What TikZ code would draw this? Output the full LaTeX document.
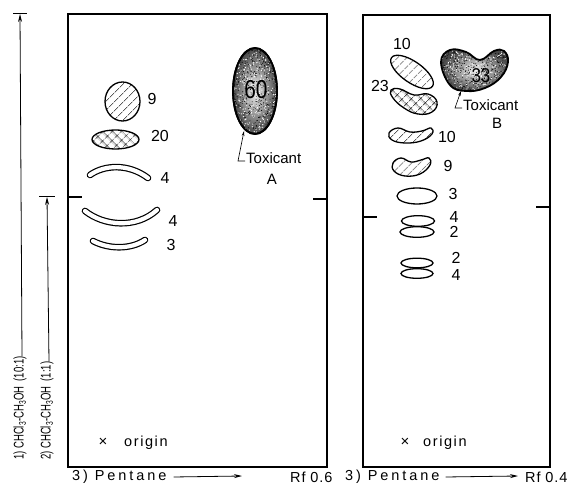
\documentclass[tikz,border=0pt]{standalone}
\usepackage{fontspec}
\setmainfont{Liberation Sans}
\usetikzlibrary{arrows.meta,patterns.meta,shapes.geometric,calc}

\begin{document}
\begin{tikzpicture}[x=1pt,y=1pt,
  frame/.style={line width=1.8pt},
  tick/.style={line width=1.3pt},
  spot/.style={line width=1.3pt},
  hatch/.style={spot, pattern={Lines[angle=45,distance=6.5pt,line width=0.7pt]}},
  xhatch/.style={spot, pattern={Hatch[angle=45,distance=6.5pt,line width=0.7pt]}},
  band/.style={double, double distance=4.2pt, line width=1.2pt, line cap=round},
  num/.style={font=\fontsize{16}{16}\selectfont, inner sep=0pt},
  small/.style={font=\fontsize{15}{15}\selectfont, inner sep=0pt},
  axis/.style={font=\fontsize{14.5}{14.5}\selectfont\addfontfeature{LetterSpace=20}, inner sep=0pt, anchor=west},
  rflabel/.style={font=\fontsize{14.5}{14.5}\selectfont\addfontfeature{LetterSpace=6}, inner sep=0pt, anchor=west},
  origin/.style={font=\fontsize{14.5}{14.5}\selectfont\addfontfeature{LetterSpace=11}, inner sep=0pt, anchor=west},
  solvent/.style={font=\fontsize{14}{14}\selectfont, inner sep=0pt, rotate=90, anchor=west},
  flow/.style={line width=0.8pt, -{Stealth[length=8pt,width=4pt]}},
  lead/.style={line width=0.6pt, -{Stealth[length=5pt,width=2.6pt]}},
  toxic/.style={shading=radial, inner color=black!5, outer color=black!72}
]
\useasboundingbox (0,0) rectangle (574,490);

% plate outlines and solvent-front ticks
\draw[frame] (68,23) rectangle (327,476);
\draw[frame] (363,23) rectangle (550,475);
\draw[tick] (68,293) -- (82,293);
\draw[tick] (313,291) -- (327,291);
\draw[tick] (363,273) -- (377,273);
\draw[tick] (536,283) -- (550,283);

% development directions
\node[solvent] (s1) at (20,30) {\scalebox{0.68}[1]{1)\ CHCl\textsubscript{3}-CH\textsubscript{3}OH\ \ (10:1)}};
\node[solvent] (s2) at (47,30) {\scalebox{0.68}[1]{2)\ CHCl\textsubscript{3}-CH\textsubscript{3}OH\ \ (1:1)}};
\coordinate (f1) at (20,476);
\coordinate (f2) at (47,293);
\draw[flow] ([xshift=2pt]s1.east) -- (f1);
\draw[flow] ([xshift=2pt]s2.east) -- (f2);
\draw[line width=1pt] ([xshift=-7pt]f1) -- ([xshift=7pt]f1);
\draw[line width=1pt] ([xshift=-8pt]f2) -- ([xshift=8pt]f2);

% ---------- first plate ----------
\draw[hatch] (122.5,388.5) ellipse (17.5 and 19.5);
\node[num] (l9) at (152,391) {9};
\draw[xhatch] (115.5,350.5) ellipse (23.5 and 9.5);
\node[num] (l20) at (160,354) {20};
\draw[band] (90,315) .. controls (104,325) and (128,327) .. (148,312);
\node[num] (l4a) at (165,312) {4};
\draw[band] (85,279) .. controls (104,264) and (136,261) .. (157,280);
\node[num] (l4b) at (173,269) {4};
\draw[band] (93,249) .. controls (108,241) and (130,240) .. (145,250);
\node[num] (l3a) at (171,245) {3};

% toxicant A
\node[draw, ellipse, line width=1.8pt, minimum width=44pt, minimum height=86pt,
      inner sep=0pt, toxic] (blobA) at (255,399) {};
\begin{scope}
  \clip (255,399) ellipse (22 and 43);
  \pgfmathsetseed{11}
  \foreach \k in {1,...,350}{\fill[white] ({255+22*rand},{399+43*rand}) circle (0.6pt);}
  \foreach \k in {1,...,550}{\fill[black] ({255+22*rand},{399+43*rand}) circle (0.45pt);}
\end{scope}
\draw[line width=1.8pt] (255,399) ellipse (22 and 43);
\node[font=\fontsize{26}{26}\selectfont, inner sep=0pt] (n60) at (256,400) {\scalebox{0.8}[1]{60}};
\node[small, anchor=base west] (tA) at (246,326) {Toxicant};
\node[small] (tA2) at (272,311) {A};
\coordinate (pA) at (244,359);
\draw[lead] ([xshift=-1pt,yshift=3pt]tA.base west) -- ++(-7,0) -- (pA);

% origin
\node[small] (xo1) at (103,48) {×};
\node[origin] (o1) at (124,47) {origin};

% ---------- second plate ----------
\draw[hatch, rotate around={-35:(412,418)}] (412,418) ellipse (25 and 10.5);
\node[num] (r10a) at (402,446) {10};
\draw[xhatch] plot[smooth cycle, tension=0.75] coordinates
  {(391,400) (400,401) (414,395) (428,396) (437,388) (432,378) (418,376) (404,382) (393,392)};
\node[num] (r23) at (380,404) {23};

% toxicant B
\def\blobB{plot[smooth cycle, tension=0.7] coordinates
  {(441,428) (450,440) (466,438) (480,430) (494,439) (504,439) (508,428) (501,413) (485,402) (466,399) (450,405)}}
\fill[toxic] \blobB;
\begin{scope}
  \clip \blobB;
  \pgfmathsetseed{23}
  \foreach \k in {1,...,350}{\fill[white] ({474+34*rand},{420+22*rand}) circle (0.6pt);}
  \foreach \k in {1,...,550}{\fill[black] ({474+34*rand},{420+22*rand}) circle (0.45pt);}
\end{scope}
\draw[line width=1.8pt] \blobB;
\node[font=\fontsize{20}{20}\selectfont, inner sep=0pt] (n33) at (481,414) {\scalebox{0.85}[1]{33}};
\node[small, anchor=base west] (tB) at (463,379) {Toxicant};
\node[small] (tB2) at (497,367) {B};
\coordinate (pB) at (461,399);
\draw[lead] ([xshift=-1pt,yshift=3pt]tB.base west) -- ++(-7,0) -- (pB);

\draw[hatch] plot[smooth cycle, tension=0.7] coordinates
  {(389,357) (398,362) (410,358) (422,359) (431,362) (432,356) (421,349) (405,347) (392,350)};
\node[num] (r10b) at (447,353) {10};
\draw[hatch] plot[smooth cycle, tension=0.7] coordinates
  {(393,327) (401,332) (411,328) (421,330) (429,332) (430,325) (420,316) (405,314) (394,319)};
\node[num] (r9) at (448,324) {9};
\draw[spot] (417,294) ellipse (20 and 8);
\node[num] (r3) at (453,296) {3};
\draw[spot] (418,269) ellipse (16.5 and 5.3);
\draw[spot] (417,258) ellipse (17 and 5.3);
\node[num] (r4a) at (454,273) {4};
\node[num] (r2a) at (454,258) {2};
\draw[spot] (417,227) ellipse (16 and 4.8);
\draw[spot] (417,216.5) ellipse (16 and 4.8);
\node[num] (r2b) at (456,232) {2};
\node[num] (r4b) at (456,215) {4};

\node[small] (xo2) at (405,48) {×};
\node[origin] (o2) at (423,47) {origin};

% running directions along the bottom
\node[axis] (p1) at (72,13) {3)\ Pentane};
\coordinate (e1) at (242,14);
\draw[flow] ([xshift=7pt]p1.east) -- (e1);
\node[rflabel] (rf1) at (290,13) {Rf\ 0.6};
\node[axis] (p2) at (345,13) {3)\ Pentane};
\coordinate (e2) at (518,14);
\draw[flow] ([xshift=6pt]p2.east) -- (e2);
\node[rflabel] (rf2) at (525,13) {Rf\ 0.4};
\end{tikzpicture}
\end{document}
